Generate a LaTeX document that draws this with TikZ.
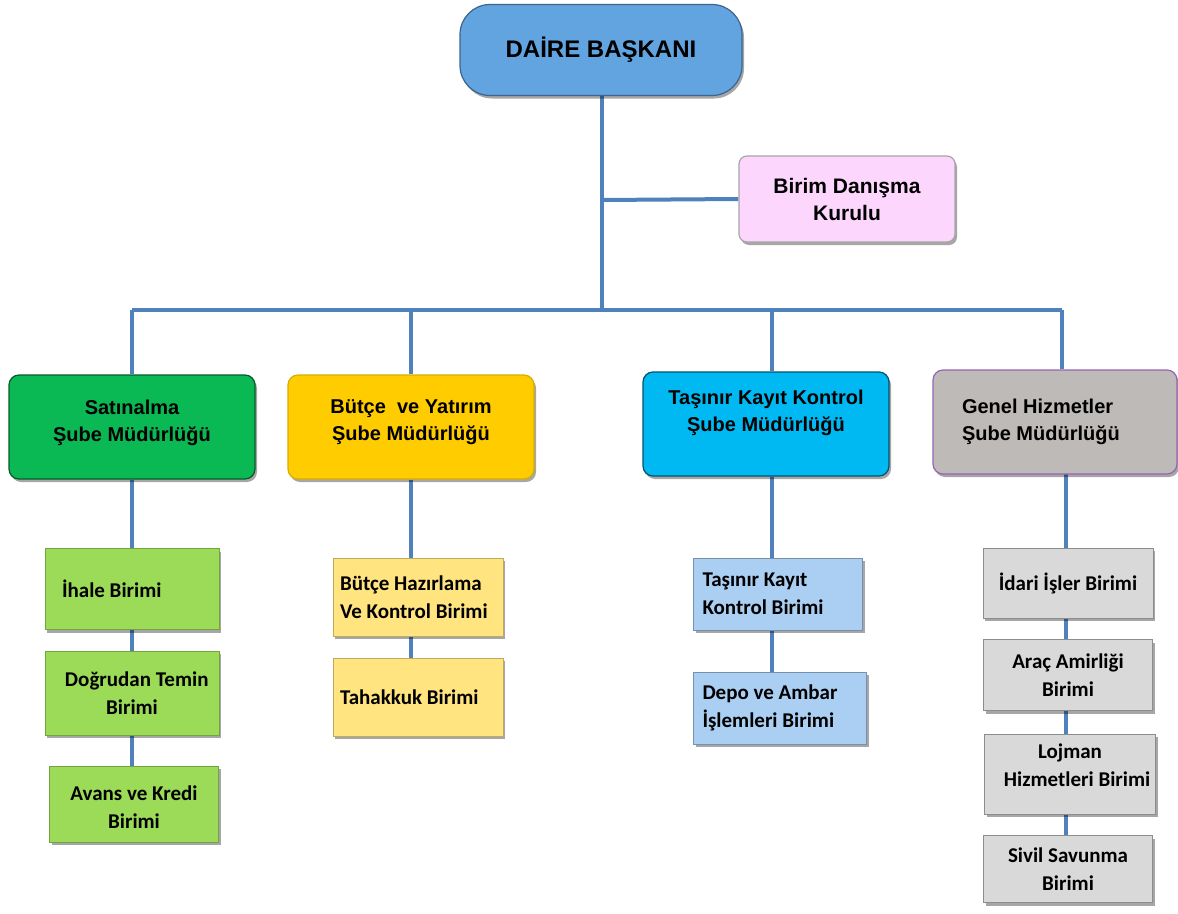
\documentclass[tikz,border=0pt]{standalone}
\usepackage{fontspec}
\setmainfont{Liberation Sans}
\newfontfamily\unitfont{Carlito}
\usetikzlibrary{shadows, backgrounds, positioning}
\definecolor{linkblue}{RGB}{79, 129, 189}
\definecolor{headblue}{RGB}{98, 164, 224}
\definecolor{headedge}{RGB}{60, 100, 140}
\definecolor{boardpink}{RGB}{252, 214, 252}
\definecolor{satgreen}{RGB}{10, 184, 84}
\definecolor{butyellow}{RGB}{255, 204, 0}
\definecolor{tascyan}{RGB}{0, 185, 242}
\definecolor{gengray}{RGB}{190, 186, 184}
\definecolor{genedge}{RGB}{150, 100, 180}
\definecolor{unitgreen}{RGB}{155, 219, 88}
\definecolor{unityellow}{RGB}{255, 228, 128}
\definecolor{unitblue}{RGB}{170, 207, 242}
\definecolor{unitgray}{RGB}{217, 217, 217}

\tikzset{
  link/.style={draw=linkblue, line width=4pt},
  softshadow/.style={drop shadow={shadow xshift=2pt, shadow yshift=-3pt, opacity=0.35, fill=black}},
  headbox/.style={rounded corners=30pt, fill=headblue, draw=headedge, line width=1.2pt, softshadow,
    minimum width=282pt, minimum height=91pt, font=\bfseries\fontsize{24}{29}\selectfont},
  deptbox/.style={rounded corners=10pt, line width=1.2pt, softshadow, minimum width=246pt,
    minimum height=104pt, align=center, font=\bfseries\fontsize{20}{27}\selectfont},
  unitbox/.style={line width=0.8pt, softshadow, minimum width=170pt, align=center,
    font=\unitfont\bfseries\fontsize{21}{28}\selectfont},
  leftunit/.style={align=flush left, text width=#1},
}

\begin{document}
\begin{tikzpicture}[x=1pt, y=-1pt]
  \useasboundingbox (0,0) rectangle (1178,913);

  % Head and board
  \node[headbox] (boss) at (601,50) {DAİRE BAŞKANI};
  \node[deptbox, fill=boardpink, draw=gray!70, rounded corners=8pt, minimum width=216pt, minimum height=86pt,
    font=\bfseries\fontsize{21}{27}\selectfont] (board) at (847,199) {Birim Danışma\\Kurulu};

  % Departments
  \node[deptbox, fill=satgreen, draw=satgreen!50!black] (sat) at (132,427) {Satınalma\\Şube Müdürlüğü\\[-14pt]\mbox{}};
  \node[deptbox, fill=butyellow, draw=butyellow!85!black] (butce) at (411,427) {Bütçe\ \ ve Yatırım\\Şube Müdürlüğü\\[-14pt]\mbox{}};
  \node[deptbox, fill=tascyan, draw=tascyan!45!black] (tasinir) at (766,424) {Taşınır Kayıt Kontrol\\Şube Müdürlüğü\\\mbox{}};
  \node[deptbox, fill=gengray, draw=genedge, align=flush left, text width=186pt, minimum width=244pt] (genel) at (1055,422) {Genel Hizmetler\\Şube Müdürlüğü};

  % Satınalma units
  \node[unitbox, fill=unitgreen, draw=unitgreen!75!black, minimum width=174pt, minimum height=81pt,
    leftunit=140pt] (ihale) at (132,589) {İhale Birimi};
  \node[unitbox, fill=unitgreen, draw=unitgreen!75!black, minimum width=174pt, minimum height=84pt] (dogrudan) at (132,693) {\ \ Doğrudan Temin\\Birimi};
  \node[unitbox, fill=unitgreen, draw=unitgreen!75!black, minimum width=169pt, minimum height=76pt] (avans) at (134,804) {\mbox{}\\[-8pt]Avans ve Kredi\\Birimi};

  % Bütçe units
  \node[unitbox, fill=unityellow, draw=unityellow!75!black, minimum height=78pt, leftunit=156pt] (hazirlama) at (418,597) {Bütçe Hazırlama\\Ve Kontrol Birimi};
  \node[unitbox, fill=unityellow, draw=unityellow!75!black, minimum height=78pt, leftunit=156pt] (tahakkuk) at (418,697) {Tahakkuk Birimi};

  % Taşınır units
  \node[unitbox, fill=unitblue, draw=unitblue!70!black, minimum width=169pt, minimum height=72pt, leftunit=151pt] (kayit) at (778,594) {Taşınır Kayıt\\Kontrol Birimi};
  \node[unitbox, fill=unitblue, draw=unitblue!70!black, minimum width=173pt, minimum height=72pt, leftunit=155pt] (depo) at (780,708) {Depo ve Ambar\\İşlemleri Birimi};

  % Genel Hizmetler units
  \node[unitbox, fill=unitgray, draw=unitgray!65!black, minimum height=70pt] (idari) at (1068,583) {İdari İşler Birimi};
  \node[unitbox, fill=unitgray, draw=unitgray!65!black, minimum width=169pt, minimum height=71pt] (arac) at (1068,675) {Araç Amirliği\\Birimi};
  \node[unitbox, fill=unitgray, draw=unitgray!65!black, minimum width=171pt, minimum height=80pt] (lojman) at (1070,774) {Lojman\\\ \ \ Hizmetleri Birimi\\[-10pt]\mbox{}};
  \node[unitbox, fill=unitgray, draw=unitgray!65!black, minimum width=169pt, minimum height=67pt] (sivil) at (1068,869) {Sivil Savunma\\Birimi};

  % Connectors
  \coordinate (hub) at (602,310);
  \coordinate (tap) at (602,200);
  \coordinate (barL) at (132,310);
  \coordinate (barR) at (1062,310);
  \coordinate (tcol) at (772,310);
  \coordinate (gcol) at (1066,474);
  \begin{scope}[on background layer]
    \fill[white] (0,0) rectangle (1178,913);
    \draw[link] (boss.south -| hub) -- (hub);
    \draw[link] (tap) -- (board.west);
    \draw[link] (barL) -- (barR);
    \draw[link] (barL) -- (barL |- sat.north);
    \draw[link] (butce.north |- barL) -- (butce.north);
    \draw[link] (tcol) -- (tcol |- tasinir.north);
    \draw[link] (barR) -- (barR |- genel.north);
    \draw[link] (sat.south) -- (sat.south |- avans.north);
    \draw[link] (butce.south) -- (butce.south |- tahakkuk.north);
    \draw[link] (tcol |- tasinir.south) -- (tcol |- depo.north);
    \draw[link] (gcol) -- (gcol |- sivil.north);
  \end{scope}
\end{tikzpicture}
\end{document}
